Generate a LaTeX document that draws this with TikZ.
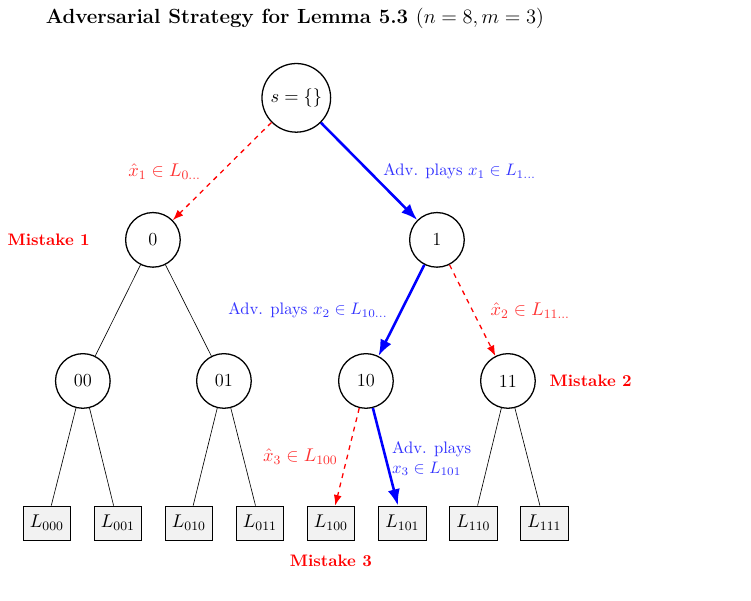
\RequirePackage{fix-cm}
\documentclass[tikz,border=0pt]{standalone}
\usepackage{tikz}
\usetikzlibrary{positioning, arrows.meta, calc}

\begin{document}
\begin{tikzpicture}[>=Latex, font=\fontsize{11.5}{14}\selectfont, state/.style={draw, circle, minimum size=1.2cm, thick}, leaf/.style={draw, rectangle, fill=gray!10, minimum width=1.05cm, minimum height=0.75cm}, plain/.style={-}, adv/.style={->, ultra thick, blue}, guess/.style={->, thick, dashed, red}, advlabel/.style={text=blue!80, font=\fontsize{10.4}{12.5}\selectfont}, guesslabel/.style={text=red!80, font=\fontsize{11.5}{14}\selectfont}, mistake/.style={text=red, font=\fontsize{10.4}{12.5}\selectfont\bfseries}]
\useasboundingbox (0,0) rectangle (16.5,-13.2);
\node[font=\fontsize{12.8}{15}\selectfont\bfseries] (Title) at (6.48,-0.4) {Adversarial Strategy for Lemma 5.3 $(n=8, m=3)$};
\node[state, minimum size=1.5cm] (Root) at (6.51,-2.15) {$s=\{\}$};
\node[state] (N0) at (3.36,-5.27) {0};
\node[state] (N1) at (9.60,-5.27) {1};
\node[state] (N00) at (1.82,-8.37) {00};
\node[state] (N01) at (4.92,-8.37) {01};
\node[state] (N10) at (8.04,-8.37) {10};
\node[state] (N11) at (11.16,-8.37) {11};
\node[leaf] (L000) at (1.03,-11.49) {$L_{000}$};
\node[leaf] (L001) at (2.59,-11.49) {$L_{001}$};
\node[leaf] (L010) at (4.15,-11.49) {$L_{010}$};
\node[leaf] (L011) at (5.71,-11.49) {$L_{011}$};
\node[leaf] (L100) at (7.27,-11.49) {$L_{100}$};
\node[leaf] (L101) at (8.84,-11.49) {$L_{101}$};
\node[leaf] (L110) at (10.40,-11.49) {$L_{110}$};
\node[leaf] (L111) at (11.96,-11.49) {$L_{111}$};
\node[mistake, left=0.65cm of N0] (Mis1) {Mistake 1};
\node[mistake, right=0.18cm of N11] (Mis2) {Mistake 2};
\node[mistake, below=0.2cm of L100] (Mis3) {Mistake 3};
\draw[guess] (Root) -- (N0) node[midway, left=0.34cm, guesslabel] {$\hat{x}_1 \in L_{0\ldots}$};
\draw[adv] (Root) -- (N1) node[midway, right=0.17cm, advlabel] {Adv. plays $x_1 \in L_{1\ldots}$};
\draw[plain] (N0) -- (N00);
\draw[plain] (N0) -- (N01);
\draw[adv] (N1) -- (N10) node[midway, left=0.16cm, advlabel] {Adv. plays $x_2 \in L_{10\ldots}$};
\draw[guess] (N1) -- (N11) node[midway, right=0.27cm, guesslabel] {$\hat{x}_2 \in L_{11\ldots}$};
\draw[plain] (N00) -- (L000);
\draw[plain] (N00) -- (L001);
\draw[plain] (N01) -- (L010);
\draw[plain] (N01) -- (L011);
\draw[guess] (N10) -- (L100) node[midway, left=0.08cm, guesslabel] {$\hat{x}_3 \in L_{100}$};
\draw[adv] (N10) -- (L101) node[midway, right=0cm, advlabel, align=left, yshift=-0.04cm] {Adv. plays\\$x_3 \in L_{101}$};
\draw[plain] (N11) -- (L110);
\draw[plain] (N11) -- (L111);
\end{tikzpicture}
\end{document}
